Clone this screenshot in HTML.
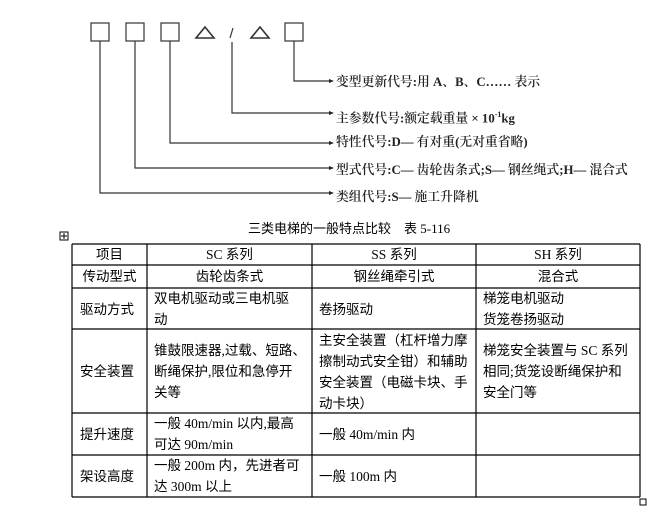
<!DOCTYPE html>
<html><head><meta charset="utf-8"><style>
body{margin:0;width:669px;height:508px;background:#fff;position:relative;overflow:hidden;font-family:"Liberation Serif","Noto Serif CJK SC","Noto Sans CJK SC",serif;}
.t{position:absolute;font-size:12.8px;color:#222;white-space:nowrap;line-height:14px;font-weight:600;font-family:"Liberation Serif","Noto Serif CJK SC",serif}
.c{position:absolute;font-size:13.5px;line-height:21px;color:#000;font-family:"Liberation Serif","Noto Sans CJK SC",sans-serif;}
.ctr{text-align:center}
</style></head><body>
<svg width="669" height="508" style="position:absolute;left:0;top:0">
<g fill="none" stroke="#333" stroke-width="1.2">
<rect x="91" y="23" width="18" height="18"/>
<rect x="126" y="23" width="18" height="18"/>
<rect x="161" y="23" width="18" height="18"/>
<rect x="285" y="23" width="18" height="18"/>
<polygon points="196,38 214,38 205,27" stroke-width="1.6"/>
<polygon points="251,38 269,38 260,27" stroke-width="1.6"/>
<line x1="233" y1="28" x2="230" y2="38"/>
<polyline points="294,41 294,81 330,81"/>
<polyline points="232,42 232,113 330,113"/>
<polyline points="170,41 170,143 330,143"/>
<polyline points="135,41 135,168 330,168"/>
<polyline points="100,41 100,193 330,193"/>
</g>
<g fill="#222">
<polygon points="334,81 329,79 329,83"/><polygon points="334,113 329,111 329,115"/>
<polygon points="334,143 329,141 329,145"/><polygon points="334,168 329,166 329,170"/>
<polygon points="334,193 329,191 329,195"/>
</g>
<rect x="60" y="232" width="8" height="8" fill="none" stroke="#000"/>
<path d="M64 233v6M61 236h6" stroke="#000"/>
<rect x="640" y="499" width="6" height="6" fill="none" stroke="#000"/>
<g stroke="#000" stroke-width="1.2">
<line x1="72" y1="244" x2="640" y2="244"/><line x1="72" y1="265" x2="640" y2="265"/>
<line x1="72" y1="288" x2="640" y2="288"/><line x1="72" y1="329" x2="640" y2="329"/>
<line x1="72" y1="413" x2="640" y2="413"/><line x1="72" y1="455" x2="640" y2="455"/>
<line x1="72" y1="497" x2="640" y2="497"/>
<line x1="72" y1="244" x2="72" y2="497"/><line x1="147" y1="244" x2="147" y2="497"/>
<line x1="312" y1="244" x2="312" y2="497"/><line x1="476" y1="244" x2="476" y2="497"/>
<line x1="640" y1="244" x2="640" y2="497"/>
</g>
</svg>
<div class="t" style="left:336px;top:75px">变型更新代号:用 A、B、C…… 表示</div>
<div class="t" style="left:336px;top:108px">主参数代号:额定载重量 × 10<sup style="font-size:8px">-1</sup>kg</div>
<div class="t" style="left:336px;top:135px">特性代号:D— 有对重(无对重省略)</div>
<div class="t" style="left:336px;top:163px">型式代号:C— 齿轮齿条式;S— 钢丝绳式;H— 混合式</div>
<div class="t" style="left:336px;top:190px">类组代号:S— 施工升降机</div>
<div class="c" style="left:248px;top:218px;font-size:13px">三类电梯的一般特点比较　表 5-116</div>

<div class="c ctr" style="left:72px;width:75px;top:244px">项目</div>
<div class="c ctr" style="left:147px;width:165px;top:244px">SC 系列</div>
<div class="c ctr" style="left:312px;width:164px;top:244px">SS 系列</div>
<div class="c ctr" style="left:476px;width:164px;top:244px">SH 系列</div>
<div class="c ctr" style="left:72px;width:75px;top:266px">传动型式</div>
<div class="c ctr" style="left:147px;width:165px;top:266px">齿轮齿条式</div>
<div class="c ctr" style="left:312px;width:164px;top:266px">钢丝绳牵引式</div>
<div class="c ctr" style="left:476px;width:164px;top:266px">混合式</div>

<div class="c" style="left:80px;top:299px">驱动方式</div>
<div class="c" style="left:154px;top:288px;width:158px">双电机驱动或三电机驱<br>动</div>
<div class="c" style="left:319px;top:299px">卷扬驱动</div>
<div class="c" style="left:483px;top:288px">梯笼电机驱动<br>货笼卷扬驱动</div>

<div class="c" style="left:80px;top:361px">安全装置</div>
<div class="c" style="left:154px;top:340px">锥鼓限速器,过载、短路、<br>断绳保护,限位和急停开<br>关等</div>
<div class="c" style="left:319px;top:330px">主安全装置（杠杆增力摩<br>擦制动式安全钳）和辅助<br>安全装置（电磁卡块、手<br>动卡块）</div>
<div class="c" style="left:483px;top:340px">梯笼安全装置与 SC 系列<br>相同;货笼设断绳保护和<br>安全门等</div>

<div class="c" style="left:80px;top:424px">提升速度</div>
<div class="c" style="left:154px;top:413px">一般 40m/min 以内,最高<br>可达 90m/min</div>
<div class="c" style="left:319px;top:424px">一般 40m/min 内</div>

<div class="c" style="left:80px;top:466px">架设高度</div>
<div class="c" style="left:154px;top:455px">一般 200m 内，先进者可<br>达 300m 以上</div>
<div class="c" style="left:319px;top:466px">一般 100m 内</div>
</body></html>
